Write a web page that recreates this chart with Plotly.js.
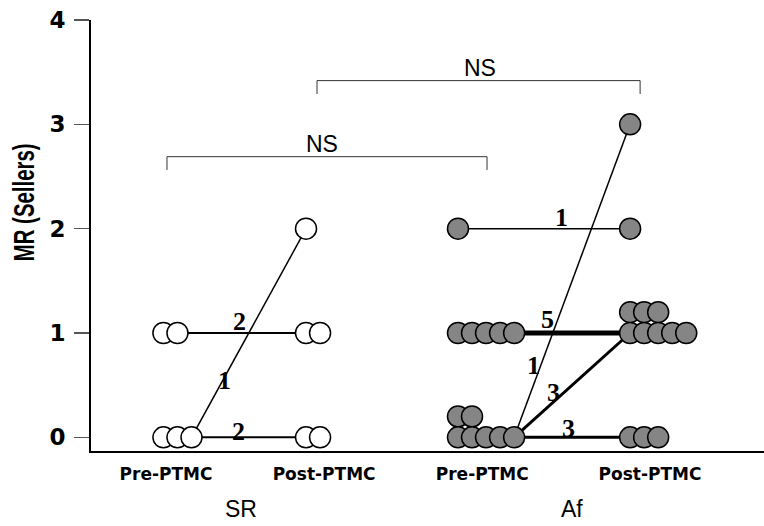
<!DOCTYPE html>
<html>
<head>
<meta charset="utf-8">
<script src="https://cdn.plot.ly/plotly-3.0.1.min.js"></script>
<style>html,body{margin:0;padding:0;background:#fff;}#chart{width:764px;height:526px;}</style>
</head>
<body>
<div id="chart"></div>
<script>
// ---------------- data ----------------
const groups = ['SR', 'Af'];
const timepoints = ['Pre-PTMC', 'Post-PTMC'];
const tickLabels = ['Pre-PTMC', 'Post-PTMC', 'Pre-PTMC', 'Post-PTMC'];
const yTickValues = [0, 1, 2, 3, 4];
const yTitle = 'MR (Sellers)';
// transitions of MR grade (Sellers): before -> after, number of patients
const srFrom  = [0, 0, 1];
const srTo    = [0, 2, 1];
const srCount = [2, 1, 2];
const afFrom  = [0, 0, 0, 1, 2];
const afTo    = [0, 1, 3, 1, 2];
const afCount = [3, 3, 1, 5, 1];
const comparisonLabels = ['NS', 'NS'];

// ---------------- layout constants ----------------
const tickPos = [1.0, 1.98, 2.96, 4.0];
const groupLabelX = [1.465, 3.517];
const anchors = { SR: { pre: 0.984, post: 1.868 }, Af: { pre: 2.81, post: 3.877 } };
const STEP = 0.087;     // horizontal spacing between stacked circles
const ROWSTEP = 0.2;    // vertical offset of a second row
const PERROW = 5;
const countLabelPos = {
  SR: [[1.449, 0.06], [1.36, 0.549], [1.453, 1.114]],
  Af: [[3.492, 0.089], [3.399, 0.434], [3.278, 0.693], [3.362, 1.125], [3.449, 2.103]]
};
const brackets = [
  { x0: 1.006, x1: 2.99, y: 2.69, yb: 2.563, tx: 1.967, ty: 2.81 },
  { x0: 1.936, x1: 3.939, y: 3.419, yb: 3.291, tx: 2.947, ty: 3.54 }
];
const fills = { SR: '#ffffff', Af: '#858585' };

const trans = {
  SR: { from: srFrom, to: srTo, count: srCount },
  Af: { from: afFrom, to: afTo, count: afCount }
};

function tally(arr, cnt) {
  const m = {};
  arr.forEach((g, i) => { m[g] = (m[g] || 0) + cnt[i]; });
  return m;
}

const traces = [];
const annotations = [];
const shapes = [];

groups.forEach(g => {
  const t = trans[g];
  const preCounts = tally(t.from, t.count);
  const postCounts = tally(t.to, t.count);
  t.from.forEach((f, i) => {
    const nPre = Math.min(preCounts[f], PERROW);
    traces.push({
      x: [anchors[g].pre + (nPre - 1) * STEP, anchors[g].post],
      y: [f, t.to[i]],
      mode: 'lines', type: 'scatter',
      line: { color: '#000', width: Math.max(1.5, t.count[i]) },
      hoverinfo: 'skip', showlegend: false
    });
    annotations.push({
      x: countLabelPos[g][i][0], y: countLabelPos[g][i][1],
      xref: 'x', yref: 'y', text: String(t.count[i]), showarrow: false,
      font: { family: 'Liberation Serif, Times New Roman, serif', size: 26, color: '#000', weight: 'bold' },
      xanchor: 'center', yanchor: 'middle'
    });
  });
  const pts = [];
  [['pre', preCounts], ['post', postCounts]].forEach(([tp, counts]) => {
    Object.keys(counts).forEach(grade => {
      const n = counts[grade];
      for (let k = 0; k < n; k++) {
        const row = Math.floor(k / PERROW), col = k % PERROW;
        pts.push({ x: anchors[g][tp] + col * STEP, y: Number(grade) + row * ROWSTEP, row });
      }
    });
  });
  pts.sort((a, b) => b.row - a.row || a.x - b.x);
  traces.push({
    x: pts.map(p => p.x), y: pts.map(p => p.y),
    mode: 'markers', type: 'scatter',
    marker: { size: 21, color: fills[g], line: { color: '#000', width: 1.5 } },
    hoverinfo: 'skip', showlegend: false
  });
});

brackets.forEach((b, i) => {
  shapes.push({
    type: 'path', xref: 'x', yref: 'y',
    path: `M ${b.x0} ${b.yb} L ${b.x0} ${b.y} L ${b.x1} ${b.y} L ${b.x1} ${b.yb}`,
    line: { color: '#333', width: 1 }
  });
  annotations.push({
    x: b.tx, y: b.ty, xref: 'x', yref: 'y', text: comparisonLabels[i], showarrow: false,
    font: { family: 'Liberation Sans, Arial, sans-serif', size: 23, color: '#000' },
    xanchor: 'center', yanchor: 'middle'
  });
});

groups.forEach((g, i) => {
  annotations.push({
    x: groupLabelX[i], y: -0.135, xref: 'x', yref: 'paper', text: g, showarrow: false,
    font: { family: 'Liberation Sans, Arial, sans-serif', size: 23, color: '#000' },
    xanchor: 'center', yanchor: 'middle'
  });
});

// y-axis title (as a rotated annotation so it can sit where the original has it)
annotations.push({
  x: -0.101, y: 0.5754, xref: 'paper', yref: 'paper', text: yTitle, showarrow: false,
  textangle: -90,
  font: { family: 'Liberation Sans, Arial, sans-serif', size: 30, color: '#000', weight: 'bold' },
  xanchor: 'center', yanchor: 'middle'
});

const layout = {
  width: 764, height: 526,
  margin: { l: 91, r: 0, t: 20, b: 75 },
  paper_bgcolor: '#fff', plot_bgcolor: '#fff',
  showlegend: false,
  xaxis: {
    range: [0.535, 4.707], showgrid: false, zeroline: false,
    showline: true, linecolor: '#000', linewidth: 2,
    tickvals: tickPos, ticktext: tickLabels, ticks: '',
    ticklabelstandoff: 7,
    tickfont: { family: 'DejaVu Sans, sans-serif', size: 17, color: '#000', weight: 'bold' }
  },
  yaxis: {
    range: [-0.131, 4.0], showgrid: false, zeroline: false,
    showline: true, linecolor: '#000', linewidth: 2,
    tickvals: yTickValues, ticks: 'outside', ticklen: 15, tickwidth: 1.5, tickcolor: '#555',
    ticklabelstandoff: 4,
    tickfont: { family: 'DejaVu Sans, sans-serif', size: 23, color: '#000', weight: 'bold' }
  },
  shapes: shapes,
  annotations: annotations
};

Plotly.newPlot('chart', traces, layout, { staticPlot: true, displayModeBar: false }).then(gd => {
  // the original's rotated title is set in a condensed face: squeeze it along its length
  gd.querySelectorAll('.annotation-text').forEach(el => {
    if (el.textContent === yTitle) {
      el.style.transformBox = 'fill-box';
      el.style.transformOrigin = 'center';
      el.style.transform = 'scaleX(0.68)';
    }
  });
});
</script>
</body>
</html>
